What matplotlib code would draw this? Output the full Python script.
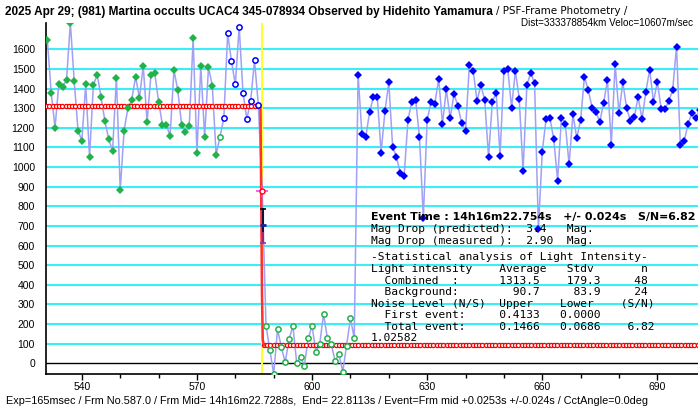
import numpy as np
import matplotlib
matplotlib.use('Agg')
import matplotlib.pyplot as plt

# light curve values (one value per frame, starting at frame 531)
first_frame = 531
pre_event = [1648, 1380, 1200, 1425, 1410, 1444, 1735, 1439, 1186, 1135,
             1422, 1052, 1417, 1471, 1357, 1235, 1142, 1082, 1456, 882,
             1186, 1301, 1342, 1461, 1352, 1515, 1230, 1468, 1478, 1334,
             1215, 1215, 1160, 1495, 1391, 1215, 1177, 1210, 1656, 1074,
             1515, 1155, 1508, 1415, 1062]
edge_green = [1155]
near_event = [1249, 1681, 1539, 1422, 1715, 1378, 1245, 1338, 1544, 1316]
event_point = [880]
in_event = [190, 68, -55, 173, 81, 5, 122, 190, 3, 31, -12, 127, 190, 59,
            98, 251, 127, 98, 12, 47, -43, 90, 229, 127]
post_event = [1469, 1169, 1155, 1279, 1359, 1359, 1074, 1284, 1432, 1104,
              1050, 972, 955, 1240, 1333, 1342, 1155, 740, 1240, 1330,
              1322, 1451, 1220, 1396, 1249, 1372, 1313, 1223, 1186, 1518,
              1491, 1337, 1417, 1342, 1053, 1334, 1378, 1058, 1490, 1502,
              1303, 1490, 1349, 980, 1417, 1481, 1427, 683, 1077, 1245,
              1250, 1142, 931, 1250, 1221, 1014, 1269, 1147, 1240, 1461,
              1391, 1303, 1282, 1230, 1328, 1442, 1113, 1525, 1274, 1432,
              1300, 1235, 1254, 1359, 1243, 1383, 1496, 1333, 1435, 1296,
              1296, 1337, 1393, 1614, 1111, 1131, 1220, 1274, 1250, 1290]

combined_mean = 1313.5
background_mean = 90.7
event_frame = 587.0
# model drop between the two levels
step_x = [586.55, 586.7, 586.95, 587.15, 587.45]
step_y = [combined_mean, 950, 350, 120, background_mean]
# event time bar
bar_frame = 587.1
bar_top, bar_mid, bar_low, bar_bot = 785, 705, 663, 611

yticks = list(range(0, 1700, 100))
xticks = [540, 570, 600, 630, 660, 690]

values = np.array(pre_event + edge_green + near_event + event_point + in_event + post_event, dtype=float)
frames = first_frame + np.arange(len(values))
i1 = len(pre_event)
i2 = i1 + len(edge_green)
i3 = i2 + len(near_event)
i4 = i3 + len(event_point)
i5 = i4 + len(in_event)

fig = plt.figure(figsize=(6.98, 4.11), dpi=100)
ax = fig.add_axes([46 / 698, 37 / 411, 652 / 698, 351.3 / 411])
xmin, xmax = 530.65, 700.6
ax.set_xlim(xmin, xmax)
ax.set_ylim(-55, 1736)

for v in yticks[1:]:
    ax.axhline(v, color='#38EEF8', lw=1.5, zorder=1)
ax.axhline(0, color='black', lw=1, zorder=1)
ax.axvline(event_frame, color='#FFFF30', lw=1.5, zorder=2)

ax.plot(frames, values, color='#a0a0f6', lw=1.1, zorder=3)

green = '#22b24a'
ax.plot(frames[:i1], values[:i1], 'D', color=green, ms=4, mew=0, zorder=5)
ax.plot(frames[i1:i2], values[i1:i2], 'o', mfc='white', mec=green, ms=3.8, mew=1.1, zorder=5)
ax.plot(frames[i2:i3], values[i2:i3], 'o', mfc='white', mec='blue', ms=3.8, mew=1.1, zorder=5)
ax.plot(frames[i4:i5], values[i4:i5], 'o', mfc='white', mec=green, ms=3.8, mew=1.1, zorder=5)
ax.plot(frames[i5:], values[i5:], 'D', color='blue', ms=4, mew=0, zorder=5)

# model levels drawn as chains of small red rings
left_x = np.arange(xmin, step_x[0], 0.85)
right_x = np.arange(step_x[-1], xmax + 0.5, 0.85)
ring = dict(color='red', lw=0.8, marker='o', ms=3.0, mfc='white', mec='red', mew=0.9, zorder=4)
ax.plot(left_x, np.full(len(left_x), combined_mean), **ring)
ax.plot(right_x, np.full(len(right_x), background_mean), **ring)
ax.plot(step_x, step_y, color='#ff3030', lw=1.8, zorder=4)

# event marker and time bar
ax.plot(frames[i3:i4], values[i3:i4], '+', color='#ff40ff', ms=9, mew=1.2, zorder=6)
ax.plot(frames[i3:i4], values[i3:i4], 'o', mfc='white', mec='red', ms=3.6, mew=1.0, zorder=7)
ax.plot([bar_frame, bar_frame], [bar_low, bar_top], color='#101040', lw=1.5, zorder=6)
ax.plot([bar_frame, bar_frame], [bar_bot, bar_low], color='#b02060', lw=1.5, zorder=6)
ax.plot([bar_frame], [bar_top], '_', color='black', ms=5, mew=1.2, zorder=6)
ax.plot([bar_frame], [bar_mid], '_', color='#2020a0', ms=4, mew=2, zorder=6)
ax.plot([bar_frame], [bar_bot], '_', color='#8040a0', ms=4, mew=1.2, zorder=6)

for s in ['top', 'right']:
    ax.spines[s].set_visible(False)
ax.spines['left'].set_linewidth(1.2)
ax.spines['bottom'].set_linewidth(1.2)

font = 'Liberation Sans'
ax.set_yticks(yticks)
ax.set_yticklabels([str(v) for v in yticks], fontsize=7.5, family=font)
ax.tick_params(axis='y', length=0, pad=8)
ax.set_xticks(xticks)
ax.set_xticklabels([str(v) for v in xticks], fontsize=7.5, family=font)
ax.set_xticks(range(550, 700, 10), minor=True)
ax.tick_params(axis='x', which='major', length=4, width=1, pad=2)
ax.tick_params(axis='x', which='minor', length=3, width=1)

W, H = 698, 411
def ftext(x, y, s, **kw):
    return fig.text(x / W, 1 - y / H, s, va='center', **kw)

t_title = ftext(5, 11.5, '2025 Apr 29; (981) Martina occults UCAC4 345-078934 Observed by Hidehito Yamamura',
                family=font, weight='bold', fontsize=7.5)
t_foot = ftext(6, 401, 'Exp=165msec / Frm No.587.0 / Frm Mid= 14h16m22.7288s,  End= 22.8113s / '
               'Event=Frm mid +0.0253s +/-0.024s / CctAngle=0.0deg', family=font, fontsize=7.4)
t_event = ftext(371, 216.5, 'Event Time : 14h16m22.754s   +/- 0.024s   S/N=6.82',
                family='DejaVu Sans', weight='bold', fontsize=7.6)

# scale the long text lines to the widths they have in the chart
fig.canvas.draw()
rend = fig.canvas.get_renderer()
for t, w in [(t_title, 485), (t_foot, 645), (t_event, 325)]:
    t.set_fontsize(t.get_fontsize() * w / t.get_window_extent(rend).width)

ftext(496, 11.5, '/ PSF-Frame Photometry /', family='DejaVu Sans', fontsize=7.4)
ftext(693, 22.5, 'Dist=333378854km Veloc=10607m/sec', family=font, fontsize=7.1, ha='right')

mono = dict(family='DejaVu Sans Mono', fontsize=8.1)
lines = [
    (229.3, 'Mag Drop (predicted):  3.4   Mag.'),
    (240.7, 'Mag Drop (measured ):  2.90  Mag.'),
    (257.5, '-Statistical analysis of Light Intensity-'),
    (269.2, 'Light intensity    Average   Stdv       n'),
    (280.7, '  Combined  :      1313.5    179.3     48'),
    (291.8, '  Background:        90.7     83.9     24'),
    (304.0, 'Noise Level (N/S)  Upper    Lower    (S/N)'),
    (315.4, '  First event:     0.4133   0.0000'),
    (326.7, '  Total event:     0.1466   0.0686    6.82'),
    (337.5, '1.02582'),
]
for y, s in lines:
    ftext(371, y, s, **mono)

fig.savefig('out.png', dpi=100)
